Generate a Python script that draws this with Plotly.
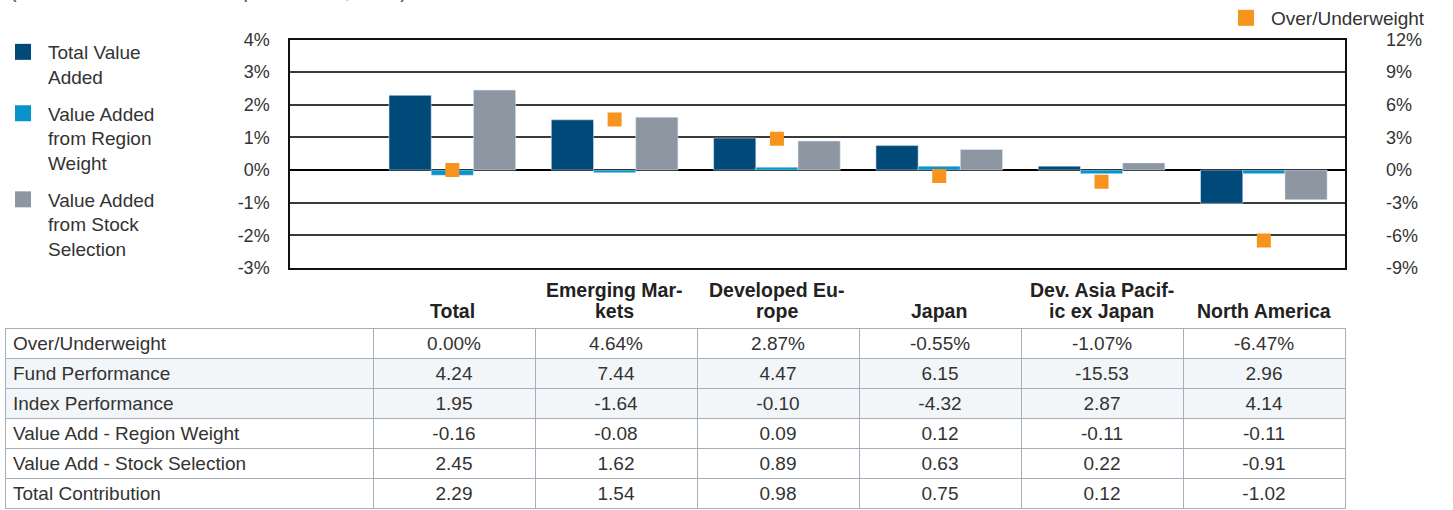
import plotly.graph_objects as go

# ---------------- data ----------------
categories = ["Total", "Emerging Markets", "Developed Europe", "Japan",
              "Dev. Asia Pacific ex Japan", "North America"]
header_labels = ["Total", "Emerging Mar-<br>kets", "Developed Eu-<br>rope", "Japan",
                 "Dev. Asia Pacif-<br>ic ex Japan", "North America"]
over_under = [0.00, 4.64, 2.87, -0.55, -1.07, -6.47]
fund_perf = [4.24, 7.44, 4.47, 6.15, -15.53, 2.96]
index_perf = [1.95, -1.64, -0.10, -4.32, 2.87, 4.14]
region_weight = [-0.16, -0.08, 0.09, 0.12, -0.11, -0.11]
stock_sel = [2.45, 1.62, 0.89, 0.63, 0.22, -0.91]
total_contrib = [2.29, 1.54, 0.98, 0.75, 0.12, -1.02]
row_labels = ["Over/Underweight", "Fund Performance", "Index Performance",
              "Value Add - Region Weight", "Value Add - Stock Selection", "Total Contribution"]
left_ticks = [-3, -2, -1, 0, 1, 2, 3, 4]
right_ticks = [-9, -6, -3, 0, 3, 6, 9, 12]
subtitle = "(Twelve Months Ended September 30, 2016)"

# ---------------- style ----------------
W, H = 1453, 510
FONT = "Liberation Sans, Arial, sans-serif"
TXT = "#333333"
C_TOTAL = "#004a7a"
C_REGION = "#0a93c8"
C_STOCK = "#8d97a2"
C_OU = "#f7941d"

x = list(range(len(categories)))

fig = go.Figure()

fig.add_trace(go.Bar(x=x, y=total_contrib, name="Total Value Added", marker_color=C_TOTAL,
                     showlegend=False))
fig.add_trace(go.Bar(x=x, y=region_weight, name="Value Added from Region Weight",
                     marker_color=C_REGION, showlegend=False))
fig.add_trace(go.Bar(x=x, y=stock_sel, name="Value Added from Stock Selection",
                     marker_color=C_STOCK, showlegend=False))
fig.add_trace(go.Scatter(x=x, y=over_under, yaxis="y2", mode="markers", name="Over/Underweight",
                         marker=dict(symbol="square", size=14, color=C_OU), showlegend=False))

# legend entries
for nm, col, grp in [("Total Value<br>Added", C_TOTAL, "a"),
                     ("Value Added<br>from Region<br>Weight", C_REGION, "b"),
                     ("Value Added<br>from Stock<br>Selection", C_STOCK, "c")]:
    fig.add_trace(go.Scatter(x=[None], y=[None], mode="markers", name=nm, legendgroup=grp,
                             marker=dict(symbol="square", size=16, color=col), legend="legend"))
fig.add_trace(go.Scatter(x=[None], y=[None], mode="markers", name="Over/Underweight",
                         marker=dict(symbol="square", size=16, color=C_OU), legend="legend2"))

# ---------------- axes ----------------
px0, px1 = 290, 1345
py_top, py_bot = 39.5, 268
xd = [px0 / W, px1 / W]
yd = [1 - py_bot / H, 1 - py_top / H]

fig.update_layout(
    width=W, height=H,
    margin=dict(l=0, r=0, t=0, b=0, autoexpand=False),
    paper_bgcolor="white", plot_bgcolor="white",
    font=dict(family=FONT, size=18, color=TXT),
    barmode="group", bargap=0.22, bargroupgap=0,
    xaxis=dict(domain=xd, range=[-1, 5.5], showticklabels=False, showgrid=False,
               zeroline=False, showline=True, mirror=True, linecolor="#111111", linewidth=1.5,
               ticks="", automargin=False),
    yaxis=dict(domain=yd, range=[-3, 4], tickvals=left_ticks,
               ticktext=[f"{v}%" for v in left_ticks], showgrid=True, gridcolor="#3a3a3a",
               gridwidth=1.5, zeroline=True, zerolinecolor="#000000", zerolinewidth=2,
               showline=True, mirror=True, linecolor="#111111", linewidth=1.5, ticks="",
               ticklabelstandoff=15, tickfont=dict(size=18, color=TXT), automargin=False),
    yaxis2=dict(overlaying="y", side="right", range=[-9, 12], tickvals=right_ticks,
                ticktext=[f"{v}%" for v in right_ticks], showgrid=False, zeroline=False,
                showline=False, ticks="", ticklabelstandoff=40,
                tickfont=dict(size=18, color=TXT), automargin=False),
    legend=dict(x=-2 / W, y=1 - 33 / H, xanchor="left", yanchor="top",
                font=dict(size=19, color=TXT), valign="top", traceorder="grouped",
                tracegroupgap=9, itemwidth=40, bgcolor="rgba(0,0,0,0)"),
    legend2=dict(x=1221 / W, y=1 + 1 / H, xanchor="left", yanchor="top",
                 font=dict(size=19, color=TXT), itemwidth=40, bgcolor="rgba(0,0,0,0)"),
)

# category headers above the table (one annotation per line, bottom aligned)
HDR_BOTTOM = 324
LINE_STEP = 21
for i, lab in enumerate(header_labels):
    lines = lab.split("<br>")
    for k, ln in enumerate(reversed(lines)):
        fig.add_annotation(x=i, y=1 - HDR_BOTTOM / H, xref="x", yref="paper",
                           yanchor="bottom", xanchor="center", yshift=k * LINE_STEP,
                           text=f"<b>{ln}</b>", showarrow=False,
                           font=dict(family=FONT, size=19.5, color="#222222"))

# subtitle cut off at the top
fig.add_annotation(x=8 / W, y=1, xref="paper", yref="paper", xanchor="left", yanchor="bottom",
                   yshift=-4, text=subtitle, showarrow=False,
                   font=dict(size=20, color="#555555"))

# ---------------- table ----------------
def fmt(v, pct=False):
    return f"{v:.2f}%" if pct else f"{v:.2f}"

header_vals = [row_labels[0]] + [fmt(v, True) for v in over_under]
rows = [fund_perf, index_perf, region_weight, stock_sel, total_contrib]
cell_cols = [row_labels[1:]]
for j in range(len(categories)):
    cell_cols.append([fmt(r[j]) for r in rows])

row_fill = ["#f3f6f8", "#f3f6f8", "white", "white", "white"]
line_c = "#a7afba"
tx0 = 5 / W
fig.add_trace(go.Table(
    domain=dict(x=[tx0, px1 / W], y=[0, 1 - 328 / H]),
    columnwidth=[368] + [162] * 6,
    header=dict(values=header_vals, height=30, fill_color="white",
                line=dict(color=line_c, width=1),
                align=["left"] + ["center"] * 6,
                font=dict(family=FONT, size=19, color=TXT)),
    cells=dict(values=cell_cols, height=30,
               fill_color=[row_fill] * 7,
               line=dict(color=line_c, width=1),
               align=["left"] + ["center"] * 6,
               font=dict(family=FONT, size=19, color=TXT)),
))

fig.write_html("out.html", config={"displayModeBar": False},
               post_script="document.body.style.margin='0px';")
